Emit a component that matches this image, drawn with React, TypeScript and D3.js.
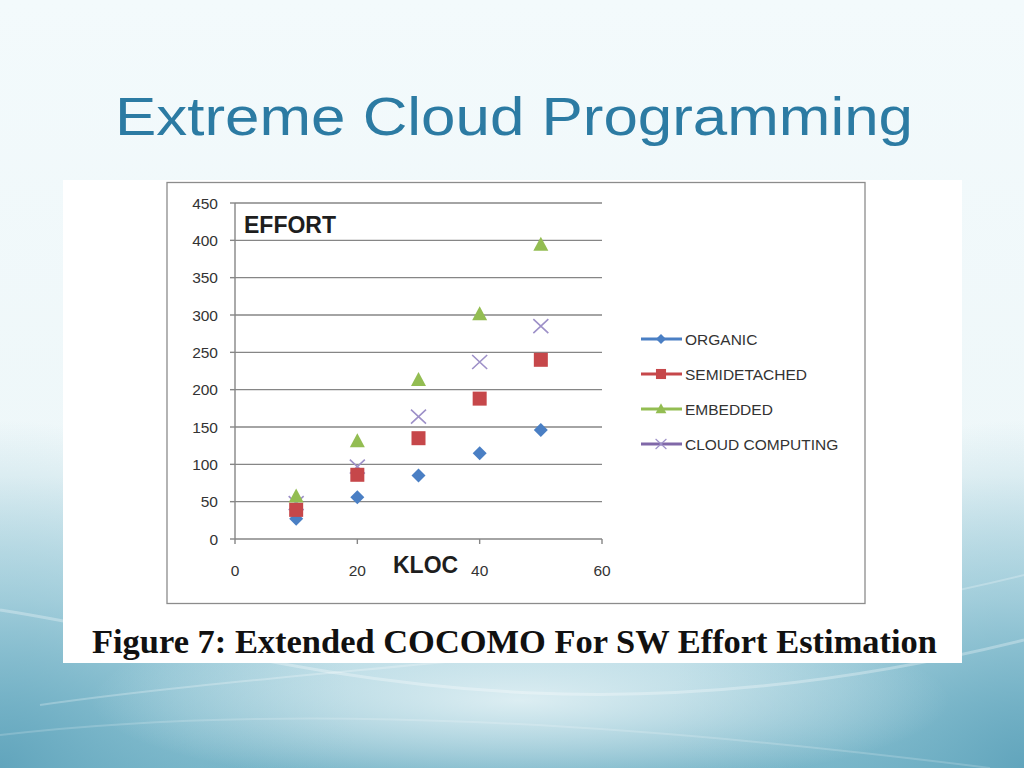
import React from "react";
import * as d3 from "d3";

const kloc = [10, 20, 30, 40, 50];
const organic = [27, 56, 85, 115, 146];
const semidetached = [39, 86, 135, 188, 240];
const embedded = [57, 131, 213, 301, 394];
const cloudComputing = [48, 97, 164, 237, 285];
const yTicks = [0, 50, 100, 150, 200, 250, 300, 350, 400, 450];
const xTicks = [0, 20, 40, 60];
const legendNames = ["ORGANIC", "SEMIDETACHED", "EMBEDDED", "CLOUD COMPUTING"];

const COLORS = {
  organic: "#4a7fc4",
  semi: "#c6474a",
  emb: "#93bd52",
  cloud: "#8068a8",
  cloudMarker: "#9d90c8",
};

function Marker({ kind, x, y }: { kind: string; x: number; y: number }) {
  if (kind === "diamond") {
    return <path d={`M${x},${y - 7}L${x + 7},${y}L${x},${y + 7}L${x - 7},${y}Z`} fill={COLORS.organic} />;
  }
  if (kind === "square") {
    return <rect x={x - 7} y={y - 7} width={14} height={14} fill={COLORS.semi} />;
  }
  if (kind === "triangle") {
    return <path d={`M${x},${y - 8}L${x + 7.5},${y + 6}L${x - 7.5},${y + 6}Z`} fill={COLORS.emb} />;
  }
  return (
    <path
      d={`M${x - 7.5},${y - 7}L${x + 7.5},${y + 7}M${x - 7.5},${y + 7}L${x + 7.5},${y - 7}`}
      stroke={COLORS.cloudMarker}
      strokeWidth={1.6}
      fill="none"
    />
  );
}

export default function App() {
  const x = d3.scaleLinear().domain([0, 60]).range([235, 602]);
  const y = d3.scaleLinear().domain([0, 450]).range([539, 203]);

  const series = [
    { name: legendNames[0], values: organic, kind: "diamond", color: COLORS.organic },
    { name: legendNames[1], values: semidetached, kind: "square", color: COLORS.semi },
    { name: legendNames[2], values: embedded, kind: "triangle", color: COLORS.emb },
    { name: legendNames[3], values: cloudComputing, kind: "x", color: COLORS.cloud },
  ];
  const drawOrder = [0, 3, 2, 1];
  const legendY = d3.scalePoint<number>().domain([0, 1, 2, 3]).range([339, 444]);

  return (
    <svg
      width={1024}
      height={768}
      style={{ position: "absolute", left: 0, top: 0, display: "block" }}
      fontFamily="'Liberation Sans', Arial, sans-serif"
    >
      <defs>
        <linearGradient id="bg" x1="0" y1="0" x2="0" y2="1">
          <stop offset="0" stopColor="#f3fafc" />
          <stop offset="0.62" stopColor="#eef7f9" />
          <stop offset="0.78" stopColor="#c9e4ec" />
          <stop offset="0.9" stopColor="#9ccbd9" />
          <stop offset="1" stopColor="#78b5c8" />
        </linearGradient>
        <radialGradient id="cornerL" cx="0" cy="1" r="1">
          <stop offset="0" stopColor="#5fa3bb" stopOpacity="0.9" />
          <stop offset="0.55" stopColor="#7ab7ca" stopOpacity="0.45" />
          <stop offset="1" stopColor="#7ab7ca" stopOpacity="0" />
        </radialGradient>
        <radialGradient id="cornerR" cx="1" cy="1" r="1">
          <stop offset="0" stopColor="#5fa3bb" stopOpacity="0.9" />
          <stop offset="0.55" stopColor="#7ab7ca" stopOpacity="0.45" />
          <stop offset="1" stopColor="#7ab7ca" stopOpacity="0" />
        </radialGradient>
        <radialGradient id="glow" cx="0.5" cy="0.5" r="0.5">
          <stop offset="0" stopColor="#e8f4f7" stopOpacity="0.85" />
          <stop offset="1" stopColor="#e8f4f7" stopOpacity="0" />
        </radialGradient>
      </defs>
      <rect x={0} y={0} width={1024} height={768} fill="url(#bg)" />
      <rect x={0} y={420} width={360} height={348} fill="url(#cornerL)" />
      <rect x={664} y={420} width={360} height={348} fill="url(#cornerR)" />
      <ellipse cx={520} cy={700} rx={430} ry={90} fill="url(#glow)" />
      <path d="M0,610 C260,650 540,760 1024,640" stroke="#ffffff" strokeOpacity={0.3} strokeWidth={3} fill="none" />
      <path d="M40,705 C320,665 700,655 1024,575" stroke="#ffffff" strokeOpacity={0.25} strokeWidth={2} fill="none" />
      <path d="M0,735 C300,700 650,725 990,768" stroke="#ffffff" strokeOpacity={0.18} strokeWidth={2} fill="none" />

      {/* Title */}
      <text x={115} y={135} fontSize={53} fill="#2c7ba3" textLength={798} lengthAdjust="spacingAndGlyphs">
        Extreme Cloud Programming
      </text>

      {/* Figure image area */}
      <rect x={63} y={180} width={899} height={483} fill="#ffffff" />
      <rect x={167} y={182.5} width={698} height={421} fill="#ffffff" stroke="#8c8c8c" strokeWidth={1.3} />

      {/* Gridlines */}
      {yTicks.map((t) => (
        <g key={"g" + t}>
          {t > 0 && <line x1={x(0)} x2={x(60)} y1={y(t)} y2={y(t)} stroke="#868686" strokeWidth={1.4} />}
          <line x1={x(0) - 5} x2={x(0)} y1={y(t)} y2={y(t)} stroke="#868686" strokeWidth={1.4} />
          <text x={218} y={y(t) + 5.5} fontSize={15.5} fill="#333333" textAnchor="end">
            {t}
          </text>
        </g>
      ))}
      {/* Axes */}
      <line x1={x(0)} x2={x(0)} y1={y(0)} y2={y(450)} stroke="#868686" strokeWidth={1.4} />
      <line x1={x(0)} x2={x(60)} y1={y(0)} y2={y(0)} stroke="#868686" strokeWidth={1.4} />
      {xTicks.map((t) => (
        <g key={"x" + t}>
          <line x1={x(t)} x2={x(t)} y1={y(0)} y2={y(0) + 5} stroke="#868686" strokeWidth={1.4} />
          <text x={x(t)} y={576} fontSize={15.5} fill="#333333" textAnchor="middle">
            {t}
          </text>
        </g>
      ))}

      <text x={244} y={233} fontSize={23} fontWeight="bold" fill="#1e1e1e">
        EFFORT
      </text>
      <text x={393} y={573} fontSize={23} fontWeight="bold" fill="#1e1e1e">
        KLOC
      </text>

      {/* Points */}
      {drawOrder.map((si) => (
        <g key={"s" + si}>
          {series[si].values.map((v, i) => (
            <Marker key={i} kind={series[si].kind} x={x(kloc[i])} y={y(v)} />
          ))}
        </g>
      ))}

      {/* Legend */}
      {series.map((s, i) => (
        <g key={"l" + i}>
          <line x1={641} x2={682} y1={legendY(i)!} y2={legendY(i)!} stroke={s.color} strokeWidth={3} />
          <g transform={`translate(${661},${legendY(i)}) scale(0.72)`}>
            <Marker kind={s.kind} x={0} y={0} />
          </g>
          <text x={685} y={legendY(i)! + 5.5} fontSize={15.5} fill="#333333">
            {s.name}
          </text>
        </g>
      ))}

      {/* Caption */}
      <text
        x={92}
        y={653}
        fontSize={33}
        fontWeight="bold"
        fill="#111111"
        fontFamily="'Liberation Serif', 'Times New Roman', serif"
        textLength={845}
        lengthAdjust="spacingAndGlyphs"
      >
        Figure 7: Extended COCOMO For SW Effort Estimation
      </text>
    </svg>
  );
}
